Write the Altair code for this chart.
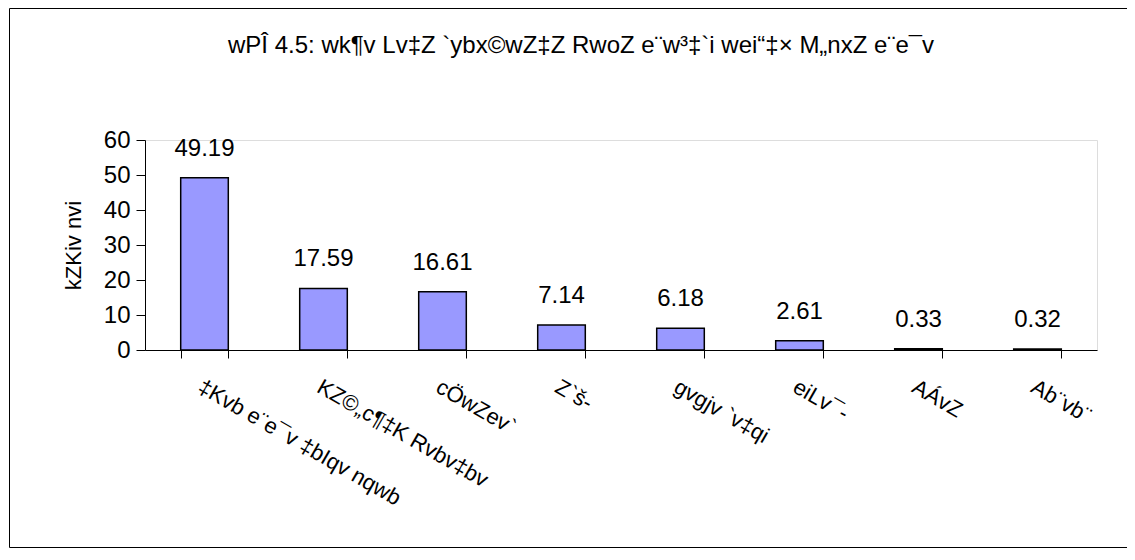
import altair as alt
import pandas as pd

categories = [
    "‡Kvb e¨e¯v ‡bIqv nqwb",
    "KZ©„c¶‡K Rvbv‡bv",
    "cÖwZev`",
    "Z`š-",
    "gvgjv `v‡qi",
    "eiLv¯-",
    "AÁvZ",
    "Ab¨vb¨",
]
values = [49.19, 17.59, 16.61, 7.14, 6.18, 2.61, 0.33, 0.32]
value_labels = ["49.19", "17.59", "16.61", "7.14", "6.18", "2.61", "0.33", "0.32"]
y_ticks = [0, 10, 20, 30, 40, 50, 60]
title_text = "wPÎ 4.5: wk¶v Lv‡Z `ybx©wZ‡Z RwoZ e¨w³‡`i wei“‡× M„nxZ e¨e¯v"
y_title = "kZKiv nvi"

FONT = "Liberation Sans Narrow, Liberation Sans, Arial Narrow, sans-serif"

df = pd.DataFrame({"cat": categories, "val": values, "lab": value_labels})

x_enc = alt.X(
    "cat:N",
    sort=categories,
    scale=alt.Scale(paddingInner=0.6, paddingOuter=0.3),
    axis=alt.Axis(
        title=None,
        labelAngle=30,
        labelAlign="left",
        labelBaseline="top",
        labelFont=FONT,
        labelFontSize=22,
        labelColor="black",
        labelPadding=18,
        labelLimit=400,
        tickBand="extent",
        tickSize=8,
        tickColor="black",
        domainColor="black",
        labelOverlap=False,
    ),
)
y_enc = alt.Y(
    "val:Q",
    scale=alt.Scale(domain=[0, 60], nice=False),
    axis=alt.Axis(
        values=y_ticks,
        tickCount=7,
        title=y_title,
        titleFont=FONT,
        titleFontSize=22,
        titleFontWeight="normal",
        titleColor="black",
        titlePadding=18,
        labelFont=FONT,
        labelFontSize=24,
        labelColor="black",
        labelPadding=6,
        labelOverlap=False,
        labelSeparation=0,
        tickSize=9,
        tickColor="black",
        domainColor="black",
        grid=False,
    ),
)

base = alt.Chart(df)
bars = base.mark_bar(color="#9999FF", stroke="black", strokeWidth=1.5).encode(x=x_enc, y=y_enc)
texts = base.mark_text(baseline="alphabetic", dy=-22, font=FONT, fontSize=24, color="black").encode(
    x=x_enc, y=y_enc, text="lab:N"
)
border = alt.Chart(pd.DataFrame({"a": [0]})).mark_rect(
    fill="white", fillOpacity=0, stroke="black", strokeWidth=1
).encode(x=alt.value(-135.5), x2=alt.value(982.5), y=alt.value(-131.5), y2=alt.value(407.5))

chart = alt.layer(border, bars, texts).properties(
    width=952,
    height=210,
    autosize=alt.AutoSizeParams(type="none"),
    padding={"left": 137, "top": 132, "right": 30, "bottom": 202},
    title=alt.TitleParams(
        title_text,
        font=FONT,
        fontSize=24,
        fontWeight="normal",
        color="black",
        anchor="middle",
        dx=-40,
        offset=-50,
    ),
).configure_view(stroke=None).configure(background="white")

chart.save("out.html", embed_options={"renderer": "svg", "actions": False})
